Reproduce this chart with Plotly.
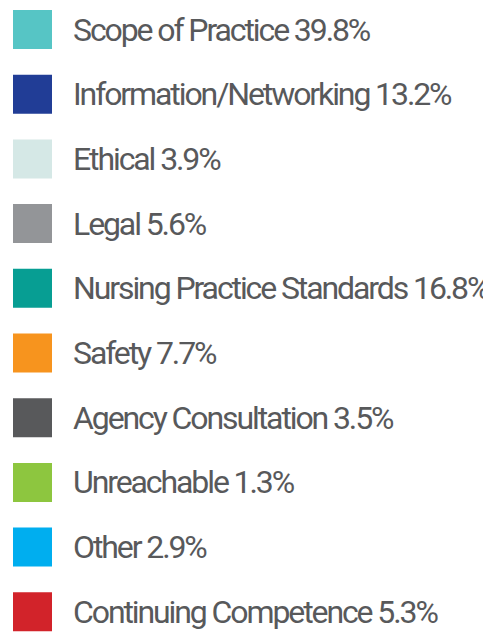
import plotly.graph_objects as go

categories = ["Scope of Practice", "Information/Networking", "Ethical", "Legal",
              "Nursing Practice Standards", "Safety", "Agency Consultation",
              "Unreachable", "Other", "Continuing Competence"]
percentages = [39.8, 13.2, 3.9, 5.6, 16.8, 7.7, 3.5, 1.3, 2.9, 5.3]
colors = ["#56c5c5", "#213d96", "#d5e8e6", "#939598", "#079e93",
          "#f7941e", "#58595b", "#8dc63f", "#00aeef", "#d2232a"]

labels = [f"{c} {p}%" for c, p in zip(categories, percentages)]
rows = list(range(len(categories)))

# page body has an 8px default margin; figure is sized to fill the rest
W, H = 483, 626

fig = go.Figure()
fig.add_trace(go.Scatter(
    x=[24.5] * len(rows), y=rows, mode="markers",
    marker=dict(symbol="square", size=39, color=colors, line=dict(width=0)),
    hoverinfo="skip", showlegend=False,
))
for r, lab in zip(rows, labels):
    fig.add_annotation(x=63, y=r, text=f'<span style="letter-spacing:-2.1px">{lab}</span>',
                       xanchor="left", yanchor="middle", showarrow=False,
                       font=dict(family="Roboto", size=32, color="#58595b"))

fig.update_layout(
    width=W, height=H, margin=dict(l=0, r=0, t=0, b=0),
    paper_bgcolor="white", plot_bgcolor="white",
    xaxis=dict(range=[0, W], visible=False, fixedrange=True),
    yaxis=dict(range=[9.343, -0.3323], visible=False, fixedrange=True),
)
fig.write_html("out.html")
